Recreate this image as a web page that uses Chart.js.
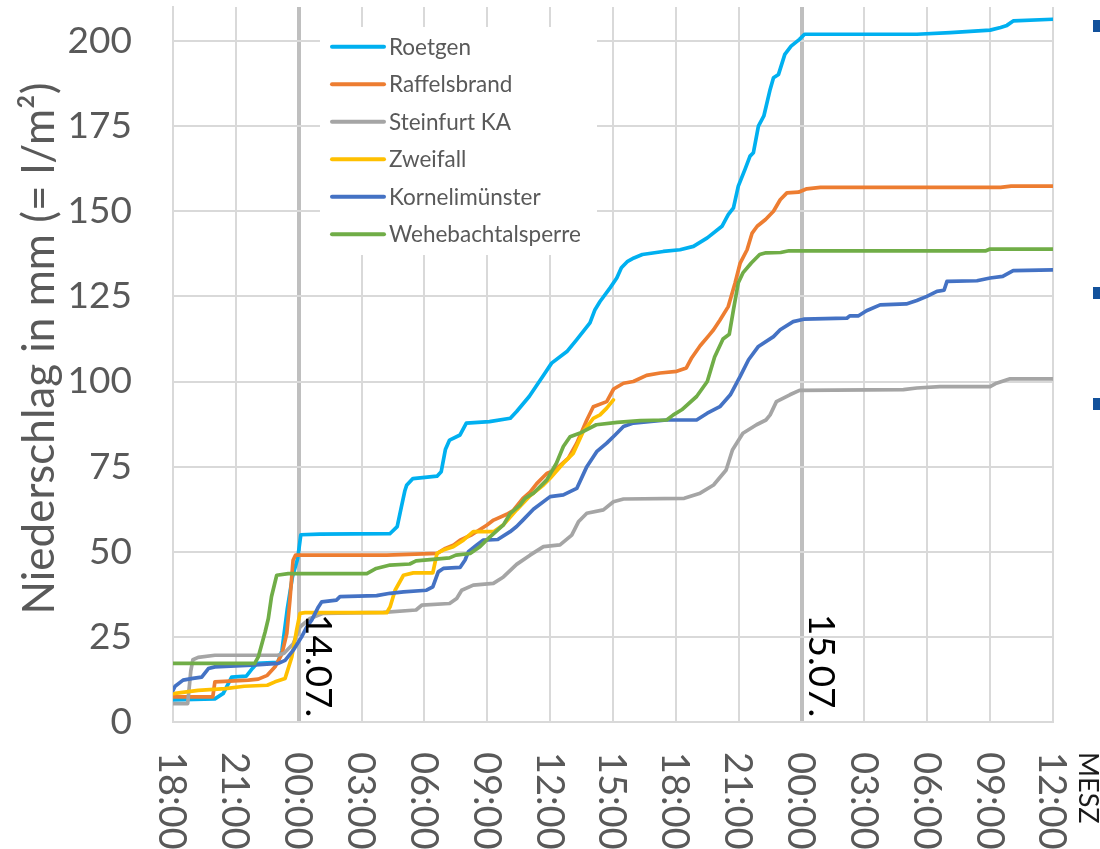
<!DOCTYPE html>
<html lang="de">
<head>
<meta charset="utf-8">
<title>Niederschlag 13.–15.07.</title>
<script src="https://cdn.jsdelivr.net/npm/chart.js@4.4.1/dist/chart.umd.min.js"></script>
<style>
  html, body { margin: 0; padding: 0; background: #ffffff; }
  #wrap { width: 1100px; height: 849px; position: relative; }
</style>
</head>
<body>
<div id="wrap"><canvas id="chart"></canvas></div>
<script>
// Cumulative precipitation (mm) per station; first value of each pair is
// hours since 13.07. 18:00 MESZ, second the accumulated amount.
const roetgen = [[0,6.5],[2.0,6.8],[2.4,8.4],[2.8,13.2],[3.5,13.5],[3.8,15.8],[4.0,17.2],[5.0,17.5],[5.2,21],[5.45,33],[5.7,42.6],[5.95,48],[6.1,55],[7.0,55.2],[10.35,55.3],[10.7,57.4],[10.9,63.2],[11.07,68],[11.15,69.5],[11.45,71.5],[12.6,72.2],[12.8,73.5],[13.0,80],[13.2,82.8],[13.7,84.3],[14.0,87.8],[15.1,88.2],[16.1,89.2],[16.4,91.2],[17.0,95.6],[17.7,102],[18.07,105.4],[18.8,108.8],[19.27,112.3],[19.9,117.2],[20.14,121.1],[20.38,123.5],[20.86,127.5],[21.18,130.4],[21.4,133.4],[21.7,135.3],[22.0,136.3],[22.4,137.3],[23.4,138.2],[24.2,138.7],[24.84,139.7],[25.5,142.2],[26.2,145.6],[26.5,149],[26.75,151],[26.98,157.4],[27.3,162.3],[27.54,166.2],[27.7,167.2],[27.94,175],[28.2,178],[28.5,185.8],[28.66,189.2],[28.9,190.2],[29.2,196.1],[29.5,198.5],[29.9,200.5],[30.14,202],[35.5,202],[37.1,202.5],[39.0,203.2],[39.5,204],[39.8,204.6],[40.1,205.9],[42,206.4]];
const raffelsbrand = [[0,7.4],[1.9,7.4],[2.0,11.8],[3.6,12.3],[4.07,12.6],[4.5,13.7],[4.87,16.2],[5.2,20],[5.43,26],[5.58,35.8],[5.73,47.5],[5.85,49],[10.2,49],[12.6,49.5],[13.0,51],[13.4,52],[13.7,53.4],[14.26,55],[14.97,57.8],[15.3,59.3],[15.93,61],[16.25,62.2],[16.7,65.7],[17.04,67.5],[17.36,70],[17.84,73],[18.23,74],[18.87,77.5],[19.27,81.9],[19.75,88.7],[20.06,92.6],[20.7,94.1],[21.03,97.8],[21.5,99.5],[21.97,100],[22.6,101.8],[23.25,102.5],[24.04,103],[24.5,104],[24.76,107],[25.16,110.5],[25.6,113.7],[25.8,115.2],[26.1,118],[26.5,122],[26.83,129],[27.07,134.8],[27.4,138.7],[27.64,143.6],[27.88,145.6],[28.28,147.6],[28.66,150],[28.98,153.4],[29.3,155.4],[29.85,155.6],[30.25,156.6],[30.9,157],[39.5,157],[40,157.4],[42,157.4]];
const steinfurt = [[0,5.4],[0.7,5.4],[0.85,15],[0.95,18.3],[1.2,19],[2.0,19.6],[5.0,19.6],[5.3,20.2],[5.74,23],[6.06,27.9],[6.54,30.4],[7.17,31.9],[10.04,32.2],[11.6,32.9],[11.87,34.3],[13.2,34.8],[13.54,36.3],[13.78,38.7],[14.33,40.2],[15.29,40.7],[15.77,42.6],[16.4,46.3],[17.04,49],[17.68,51.5],[18.47,52],[19.03,54.9],[19.35,58.8],[19.75,61.3],[20.54,62.3],[21.02,64.7],[21.5,65.5],[24.4,65.7],[25.16,67.2],[25.8,69.6],[26.4,74],[26.7,79.9],[27.2,84.8],[27.85,87.3],[28.3,88.7],[28.5,90.2],[28.8,94.1],[29.44,96.1],[29.9,97.4],[34.86,97.6],[35.5,98.1],[36.6,98.5],[39,98.5],[39.3,99.5],[39.95,100.8],[42,100.8]];
const zweifall = [[0,8.3],[1.2,9.3],[2.5,9.8],[3.4,10.5],[4.5,10.8],[4.87,11.8],[5.35,12.8],[5.67,19.1],[5.9,27],[6.06,31.9],[6.3,32.1],[10.2,32.1],[10.36,33.8],[10.6,38.7],[11.0,43.1],[11.47,43.8],[12.4,43.8],[12.6,49.5],[12.9,50.5],[13.38,51.5],[13.86,53.4],[14.33,55.9],[15.3,55.9],[15.77,57.9],[16.4,62.3],[17.0,66.2],[17.68,69.6],[18.0,71.6],[18.63,76],[19.1,78.9],[19.58,85.3],[20.06,89.2],[20.38,90.2],[20.7,92.2],[21.02,94.6]];
const kornelimuenster = [[0,9.3],[0.1,10.5],[0.48,12.3],[0.95,12.8],[1.37,13.2],[1.69,15.7],[2.0,16.2],[3.75,16.7],[5.03,17.2],[5.35,18.1],[5.74,21.1],[6.14,25],[6.38,27.9],[6.62,29.9],[6.94,33.8],[7.1,35.3],[7.8,35.8],[7.97,36.8],[9.72,37.1],[10.36,37.8],[11.0,38.2],[12.1,38.7],[12.4,39.7],[12.66,44.1],[12.9,45.1],[13.7,45.4],[13.94,47.6],[14.1,50],[14.5,52],[14.8,53.4],[15.5,53.6],[16.09,55.9],[16.4,57.4],[16.7,59.3],[17.2,62.5],[18.0,66.2],[18.63,66.7],[19.27,68.6],[19.75,75],[20.22,79.4],[20.7,81.9],[21.1,84.3],[21.5,86.8],[21.97,87.8],[23.56,88.7],[24.99,88.7],[25.5,90.7],[26.1,92.6],[26.6,96.1],[27.07,101.5],[27.47,106.4],[27.94,110.3],[28.66,113.2],[28.98,115.2],[29.6,117.6],[30.1,118.3],[32.16,118.6],[32.3,119.3],[32.72,119.3],[33.1,120.8],[33.75,122.5],[35.0,122.8],[35.5,123.8],[35.98,125],[36.46,126.5],[36.8,126.8],[36.94,129.4],[38.37,129.6],[39.0,130.4],[39.6,130.9],[40.1,132.6],[42,132.8]];
const wehebachtalsperre = [[0,17.2],[3.9,17.2],[4.07,19.1],[4.4,26.5],[4.55,30.4],[4.7,36.8],[4.95,43.1],[5.5,43.6],[9.25,43.6],[9.7,45.1],[10.36,46.1],[11.3,46.4],[11.6,47.3],[13.2,48.2],[13.5,49],[14.18,49.5],[14.65,51.5],[15.13,54.4],[15.77,57.9],[16.1,61.3],[16.56,63.7],[16.8,65.7],[17.2,67.2],[17.84,71.1],[18.3,76],[18.63,80.9],[18.95,83.8],[19.4,84.8],[20.2,87.3],[21.2,88],[22.3,88.5],[23.56,88.7],[23.88,90.2],[24.28,91.7],[24.99,95.6],[25.5,100],[25.85,107.2],[26.25,112.5],[26.55,113.9],[26.75,121.1],[26.98,129],[27.2,131.9],[27.6,134.8],[28.0,137.3],[28.3,137.8],[29.0,137.9],[29.4,138.4],[38.8,138.4],[39.0,138.9],[42,138.9]];

const stationNames = ['Roetgen', 'Raffelsbrand', 'Steinfurt KA', 'Zweifall', 'Kornelimünster', 'Wehebachtalsperre'];
const stationSeries = [roetgen, raffelsbrand, steinfurt, zweifall, kornelimuenster, wehebachtalsperre];
const stationColors = ['#00B0F0', '#ED7D31', '#A5A5A5', '#FFC000', '#4472C4', '#70AD47'];

// x axis: one tick every 3 hours, 13.07. 18:00 to 15.07. 12:00
const timeLabels = ['18:00','21:00','00:00','03:00','06:00','09:00','12:00','15:00','18:00','21:00','00:00','03:00','06:00','09:00','12:00'];
const dayStartHours = [6, 30];
const dayLabels = ['14.07.', '15.07.'];
const timeZoneLabel = 'MESZ';
const yAxisTitle = 'Niederschlag in mm (= l/m²)';

const FONT = 'Lato, "Open Sans", sans-serif';

// Rotated time labels, day markers, the inset legend and slide bullets
const decorations = {
  id: 'decorations',
  afterDatasetsDraw(chart) {
    const ctx = chart.ctx;
    // legend box inside the plot
    ctx.save();
    ctx.fillStyle = '#ffffff';
    ctx.fillRect(320, 27, 277, 228);
    ctx.font = '22.5px ' + FONT;
    ctx.textBaseline = 'middle';
    ctx.textAlign = 'left';
    chart.data.datasets.forEach((ds, i) => {
      const y = 46.7 + i * 37.5;
      ctx.strokeStyle = ds.borderColor;
      ctx.lineWidth = 4;
      ctx.lineCap = 'round';
      ctx.beginPath();
      ctx.moveTo(332, y);
      ctx.lineTo(384, y);
      ctx.stroke();
      ctx.fillStyle = '#595959';
      ctx.fillText(ds.label, 389, y + 1);
    });
    ctx.restore();
  },
  afterDraw(chart) {
    const ctx = chart.ctx;
    const xs = chart.scales.x;
    const area = chart.chartArea;
    ctx.save();

    // time of day, reading downwards
    ctx.fillStyle = '#595959';
    ctx.font = '38px ' + FONT;
    ctx.textAlign = 'left';
    ctx.textBaseline = 'alphabetic';
    xs.ticks.forEach((t, i) => {
      const px = xs.getPixelForValue(t.value);
      ctx.save();
      ctx.translate(px - 13.6, area.bottom + 30);
      ctx.rotate(Math.PI / 2);
      ctx.fillText(timeLabels[i], 0, 0);
      ctx.restore();
    });

    // time zone note
    ctx.fillStyle = '#1a1a1a';
    ctx.font = '27px ' + FONT;
    ctx.save();
    ctx.translate(1078.5, 752);
    ctx.rotate(Math.PI / 2);
    ctx.fillText(timeZoneLabel, 0, 0);
    ctx.restore();

    // date at each midnight line
    ctx.fillStyle = '#000000';
    ctx.font = '37px ' + FONT;
    dayStartHours.forEach((h, i) => {
      const px = xs.getPixelForValue(h);
      ctx.save();
      ctx.translate(px + 7, 614);
      ctx.rotate(Math.PI / 2);
      ctx.fillText(dayLabels[i], 0, 0);
      ctx.restore();
    });

    // y axis title, reading upwards
    ctx.fillStyle = '#595959';
    ctx.font = '44px ' + FONT;
    ctx.textAlign = 'center';
    ctx.save();
    ctx.translate(54, 348.5);
    ctx.rotate(-Math.PI / 2);
    ctx.fillText(yAxisTitle, 0, 0);
    ctx.restore();

    // bullets of the neighbouring text column
    ctx.fillStyle = '#12519B';
    [20, 287, 398].forEach(y => ctx.fillRect(1093, y, 12, 12));

    ctx.restore();
  }
};

new Chart(document.getElementById('chart'), {
  type: 'line',
  data: {
    datasets: stationSeries.map((s, i) => ({
      label: stationNames[i],
      data: s.map(([x, y]) => ({ x, y })),
      borderColor: stationColors[i],
      backgroundColor: stationColors[i],
      borderWidth: 3.7,
      pointRadius: 0,
      tension: 0,
      fill: false,
      borderJoinStyle: 'round',
      borderCapStyle: 'round',
      order: stationSeries.length - 1 - i
    }))
  },
  options: {
    responsive: true,
    maintainAspectRatio: false,
    animation: false,
    events: [],
    layout: { padding: { top: 7, right: 47, left: 0, bottom: 0 } },
    plugins: {
      legend: { display: false },
      tooltip: { enabled: false },
      title: { display: false }
    },
    scales: {
      x: {
        type: 'linear',
        min: 0,
        max: 42,
        ticks: { stepSize: 3, includeBounds: false, display: false },
        grid: {
          drawTicks: false,
          color: c => (c.tick && dayStartHours.includes(c.tick.value)) ? '#BFBFBF' : '#D9D9D9',
          lineWidth: c => (c.tick && dayStartHours.includes(c.tick.value)) ? 4 : 2
        },
        border: { display: true, color: '#D9D9D9', width: 2 },
        afterFit: s => { s.height = 127; s.paddingLeft = 0; s.paddingRight = 0; }
      },
      y: {
        min: 0,
        max: 210,
        ticks: {
          stepSize: 25,
          includeBounds: false,
          padding: 41,
          color: '#595959',
          font: { family: FONT, size: 37 }
        },
        grid: { drawTicks: false, color: '#D9D9D9', lineWidth: 2 },
        border: { display: true, color: '#D9D9D9', width: 2 },
        afterFit: s => { s.width = 173; s.paddingTop = 0; s.paddingBottom = 0; }
      }
    }
  },
  plugins: [decorations]
});
</script>
</body>
</html>
